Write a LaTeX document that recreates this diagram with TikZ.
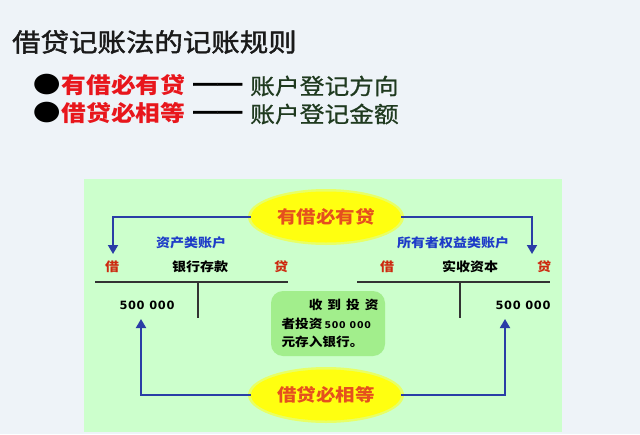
\documentclass[tikz,border=0pt]{standalone}
\usepackage{fontspec}
\setmainfont[FakeStretch=1.12]{Noto Sans CJK SC}
\newfontfamily\titlefont[FakeStretch=1.12,FakeBold=1.6]{Noto Sans CJK SC}
\newfontfamily\plainfont[FakeStretch=1.12,FakeBold=0.8]{Noto Sans CJK SC}
\newfontfamily\numfont{DejaVu Sans}
\newfontfamily\bulletfont[FakeStretch=1.2]{DejaVu Sans}
\newfontfamily\dashfont[FakeBold=1.5]{Liberation Sans}
\usetikzlibrary{shapes.geometric,arrows.meta}
\definecolor{pagebg}{HTML}{EEF3F8}
\definecolor{panel}{HTML}{CCFFCC}
\definecolor{boxgreen}{HTML}{A2EE8C}
\definecolor{ellfill}{HTML}{FFFF10}
\definecolor{elltext}{HTML}{E5501E}
\definecolor{rulered}{HTML}{E8161C}
\definecolor{darkgreen}{HTML}{1F3A1F}
\definecolor{arrowblue}{HTML}{2A3DA6}
\definecolor{labelblue}{HTML}{1E3CC8}
\definecolor{sidered}{HTML}{CC2A10}
\definecolor{titlegray}{HTML}{1A1A1A}
\tikzset{
  ellipsebox/.style={ellipse, fill=ellfill, minimum width=150pt, minimum height=51pt, inner sep=0pt,
    text=elltext, font={\bfseries\fontsize{17.4}{17.4}\selectfont}},
  flowarrow/.style={draw=arrowblue, line width=1.8pt, -{Triangle[width=10pt,length=9pt]}},
  tline/.style={draw=black!80, line width=1.8pt},
  acct/.style={inner sep=0pt, font={\bfseries\fontsize{12.5}{12.5}\selectfont}},
  amount/.style={inner sep=0pt, font={\numfont\bfseries\addfontfeatures{LetterSpace=6}\fontsize{11.4}{11.4}\selectfont}},
  bulletmark/.style={inner sep=0pt, font={\bulletfont\fontsize{27}{27}\selectfont}},
  rulemain/.style={inner sep=0pt, text=rulered, font={\bfseries\fontsize{22.1}{22.1}\selectfont}},
  ruledash/.style={inner sep=0pt, font={\dashfont\bfseries\fontsize{24.5}{24.5}\selectfont}},
  ruleaim/.style={inner sep=0pt, text=darkgreen, font={\plainfont\fontsize{22.1}{22.1}\selectfont}},
}
\begin{document}
\begin{tikzpicture}[x=1pt,y=-1pt]
\useasboundingbox (0,0) rectangle (640,434);
\fill[pagebg] (0,0) rectangle (640,434);
\fill[panel] (84,179) rectangle (562,432);

% heading
\node[inner sep=0pt, anchor=west, text=titlegray, font={\titlefont\fontsize{25.4}{25.4}\selectfont}] (title) at (12,42) {借贷记账法的记账规则};
\node[bulletmark, anchor=east] (b1) at (61,85) {●};
\node[rulemain, anchor=west] (r1) at (61.5,85) {有借必有贷};
\node[ruledash, anchor=west] (d1) at (193,87) {——};
\node[ruleaim, anchor=west] (g1) at (250,86) {账户登记方向};
\node[bulletmark, anchor=east] (b2) at (61,113) {●};
\node[rulemain, anchor=west] (r2) at (61.5,113) {借贷必相等};
\node[ruledash, anchor=west] (d2) at (193,115) {——};
\node[ruleaim, anchor=west] (g2) at (250,114) {账户登记金额};

% ellipses with soft halo
\fill[ellfill!55!panel] (326,217) ellipse [x radius=78, y radius=28];
\fill[ellfill!55!panel] (326,395) ellipse [x radius=78, y radius=28];
\node[ellipsebox] (e1) at (326,217) {有借必有贷};
\node[ellipsebox] (e2) at (326,395) {借贷必相等};

% T accounts
\coordinate (la) at (95,282);
\coordinate (lb) at (288,282);
\coordinate (lc) at (198,282);
\coordinate (ld) at (198,318);
\coordinate (ra) at (357,282);
\coordinate (rb) at (550,282);
\coordinate (rc) at (460,282);
\coordinate (rd) at (460,318);
\draw[tline] (la) -- (lb);
\draw[tline] (lc) -- (ld);
\draw[tline] (ra) -- (rb);
\draw[tline] (rc) -- (rd);

\node[acct, text=labelblue] (cat1) at (191,243) {资产类账户};
\node[acct, text=labelblue] (cat2) at (453,243) {所有者权益类账户};
\node[acct, text=sidered] (dr1) at (112,267) {借};
\node[acct] (acc1) at (200,267) {银行存款};
\node[acct, text=sidered] (cr1) at (281,267) {贷};
\node[acct, text=sidered] (dr2) at (387,267) {借};
\node[acct] (acc2) at (470,267) {实收资本};
\node[acct, text=sidered] (cr2) at (544,267) {贷};
\node[amount] (amt1) at (147,305) {500 000};
\node[amount] (amt2) at (523,305) {500 000};

% message box
\node[fill=boxgreen, rounded corners=12pt, minimum width=114pt, minimum height=65pt, inner sep=0pt] (msg) at (328,323.5) {};
\node[inner sep=0pt, text width=97pt, align=left, font={\bfseries\fontsize{12.2}{18.5}\selectfont}] (msgtext) at ([xshift=2pt]msg.center)
  {\hfill 收\hspace{5pt}到\hspace{5pt}投\hspace{5pt}资\\者投资\,{\numfont\bfseries\addfontfeatures{LetterSpace=8}\fontsize{9.4}{9.4}\selectfont 500 000}\\元存入银行。};

% arrows
\coordinate (t1) at (113,254);
\coordinate (t2) at (532,254);
\coordinate (t3) at (141,319);
\coordinate (t4) at (505,319);
\draw[flowarrow] (e1.west) -| (t1);
\draw[flowarrow] (e1.east) -| (t2);
\draw[flowarrow] (e2.west) -| (t3);
\draw[flowarrow] (e2.east) -| (t4);
\end{tikzpicture}
\end{document}
